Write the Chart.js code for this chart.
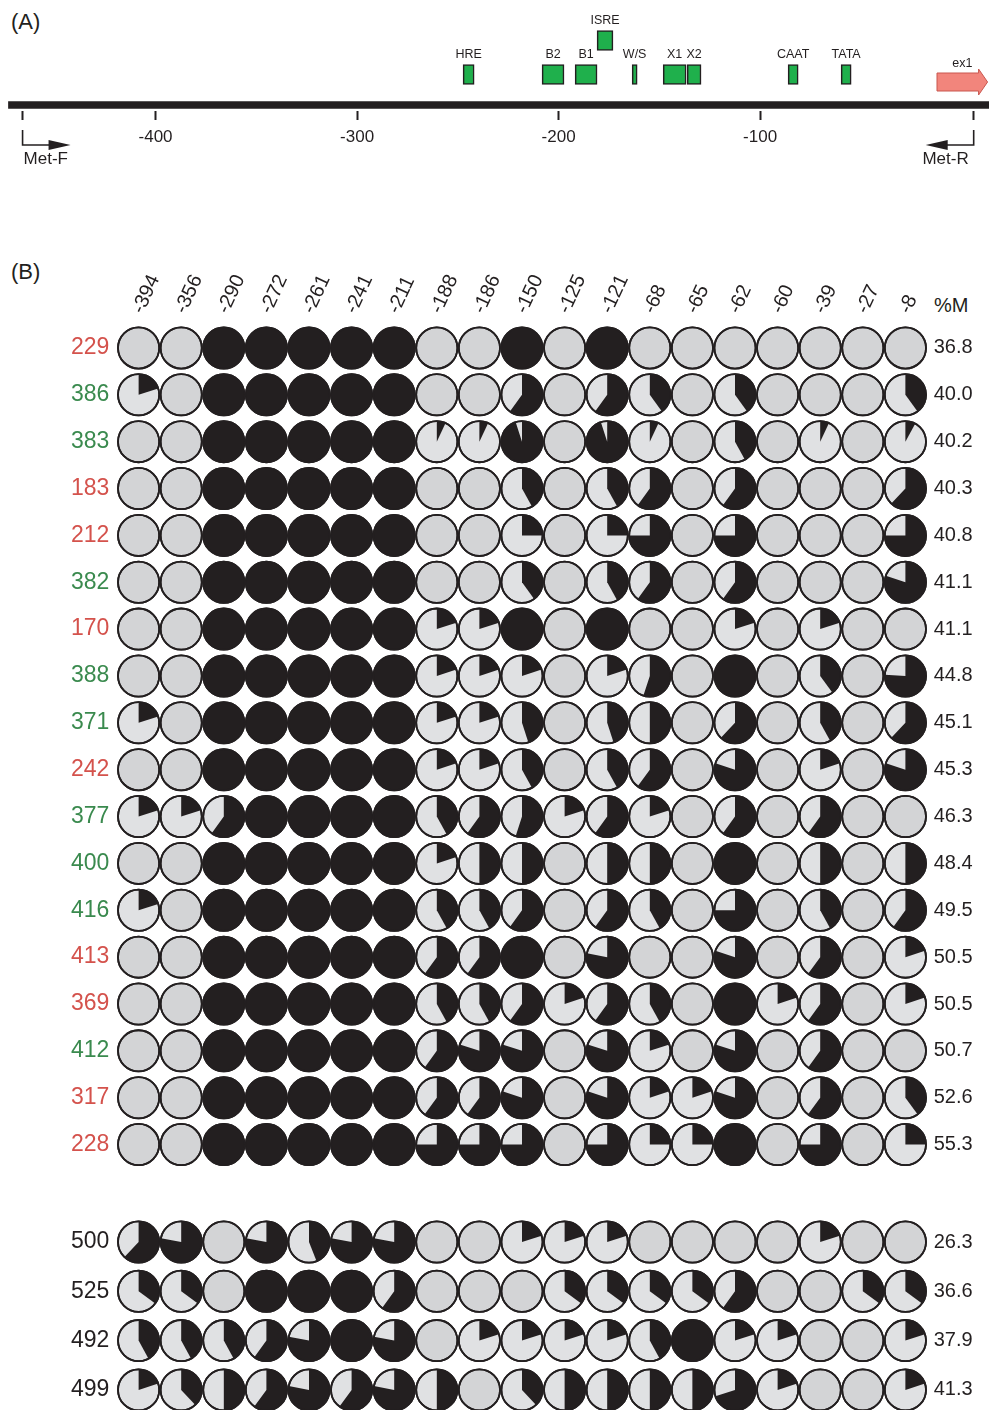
<!DOCTYPE html>
<html>
<head>
<meta charset="utf-8">
<script src="https://cdn.jsdelivr.net/npm/chart.js@4.4.0/dist/chart.umd.min.js"></script>
<style>
  body { margin: 0; width: 989px; height: 1410px; overflow: hidden; background: #fff; position: relative;
         font-family: 'Liberation Sans', Arial, sans-serif; color: #231f20; }
  canvas, .txt { position: absolute; }
  .panel { font-size: 22px; }
</style>
</head>
<body>
<div class="txt panel" style="left:11px;top:9px">(A)</div>
<div class="txt panel" style="left:11px;top:259px">(B)</div>
<div class="txt" style="left:934px;top:294px;font-size:20px">%M</div>
<canvas id="mapChart" width="989" height="180" style="left:0;top:0"></canvas>
<canvas id="topChart" width="989" height="916" style="left:0;top:252px"></canvas>
<canvas id="bottomChart" width="989" height="210" style="left:0;top:1210px"></canvas>

<script>
// ---- panel A: promoter map (positions in bp relative to exon 1) ----
const mapStart = -473, mapEnd = 14;
const mapTicks = [-400, -300, -200, -100];
const primerF = -466, primerR = 6;
const elementNames = ['HRE', 'B2', 'B1', 'ISRE', 'W/S', 'X1', 'X2', 'CAAT', 'TATA'];
const elementStart = [-247.4, -208.2, -191.8, -180.9, -163.5, -148.1, -136.2, -86.1, -59.8];
const elementEnd   = [-241.9, -197.3, -180.9, -173.0, -161.0, -136.7, -129.3, -81.1, -54.8];
const elementRaised = [0, 0, 0, 1, 0, 0, 0, 0, 0];
const exonStart = -12.2, exonEnd = 12.9;

// ---- panel B: methylation fraction per CpG site ----
const cpgSites = ['-394', '-356', '-290', '-272', '-261', '-241', '-211', '-188', '-186', '-150',
                  '-125', '-121', '-68', '-65', '-62', '-60', '-39', '-27', '-8'];

const topClones = ['229', '386', '383', '183', '212', '382', '170', '388', '371',
                   '242', '377', '400', '416', '413', '369', '412', '317', '228'];
const topPctM = ['36.8', '40.0', '40.2', '40.3', '40.8', '41.1', '41.1', '44.8', '45.1',
                 '45.3', '46.3', '48.4', '49.5', '50.5', '50.5', '50.7', '52.6', '55.3'];
const topMeth = [
  [0, 0, 1, 1, 1, 1, 1, 0, 0, 1, 0, 1, 0, 0, 0, 0, 0, 0, 0],
  [0.2, 0, 1, 1, 1, 1, 1, 0, 0, 0.6, 0, 0.6, 0.4, 0, 0.4, 0, 0, 0, 0.4],
  [0, 0, 1, 1, 1, 1, 1, 0.07, 0.07, 0.95, 0, 0.95, 0.07, 0, 0.42, 0, 0.07, 0, 0.08],
  [0, 0, 1, 1, 1, 1, 1, 0, 0, 0.42, 0, 0.42, 0.6, 0, 0.6, 0, 0, 0, 0.62],
  [0, 0, 1, 1, 1, 1, 1, 0, 0, 0.25, 0, 0.25, 0.75, 0, 0.75, 0, 0, 0, 0.75],
  [0, 0, 1, 1, 1, 1, 1, 0, 0, 0.4, 0, 0.42, 0.6, 0, 0.6, 0, 0, 0, 0.8],
  [0, 0, 1, 1, 1, 1, 1, 0.2, 0.2, 1, 0, 1, 0, 0, 0.2, 0, 0.2, 0, 0],
  [0, 0, 1, 1, 1, 1, 1, 0.2, 0.2, 0.2, 0, 0.2, 0.55, 0, 1, 0, 0.4, 0, 0.76],
  [0.2, 0, 1, 1, 1, 1, 1, 0.2, 0.2, 0.45, 0, 0.45, 0.5, 0, 0.62, 0, 0.42, 0, 0.62],
  [0, 0, 1, 1, 1, 1, 1, 0.2, 0.2, 0.42, 0, 0.42, 0.6, 0, 0.8, 0, 0.2, 0, 0.8],
  [0.2, 0.2, 0.6, 1, 1, 1, 1, 0.42, 0.6, 0.55, 0.2, 0.6, 0.2, 0, 0.6, 0, 0.6, 0, 0],
  [0, 0, 1, 1, 1, 1, 1, 0.2, 0.5, 0.5, 0, 0.5, 0.5, 0, 1, 0, 0.5, 0, 0.5],
  [0.2, 0, 1, 1, 1, 1, 1, 0.42, 0.42, 0.6, 0, 0.6, 0.42, 0, 0.75, 0, 0.42, 0, 0.6],
  [0, 0, 1, 1, 1, 1, 1, 0.6, 0.6, 1, 0, 0.78, 0, 0, 0.8, 0, 0.6, 0, 0.2],
  [0, 0, 1, 1, 1, 1, 1, 0.42, 0.42, 0.6, 0.2, 0.6, 0.42, 0, 1, 0.2, 0.6, 0, 0.2],
  [0, 0, 1, 1, 1, 1, 1, 0.6, 0.8, 0.8, 0, 0.8, 0.2, 0, 0.8, 0, 0.6, 0, 0],
  [0, 0, 1, 1, 1, 1, 1, 0.6, 0.6, 0.8, 0, 0.8, 0.2, 0.2, 0.8, 0, 0.6, 0, 0.4],
  [0, 0, 1, 1, 1, 1, 1, 0.75, 0.75, 0.75, 0, 0.75, 0.25, 0.25, 1, 0, 0.75, 0, 0.25]
];
// clone label colours (red / green groups)
const topCloneColor = ['#d4524c', '#3a8a4e', '#3a8a4e', '#d4524c', '#d4524c', '#3a8a4e', '#d4524c', '#3a8a4e', '#3a8a4e',
                       '#d4524c', '#3a8a4e', '#3a8a4e', '#3a8a4e', '#d4524c', '#d4524c', '#3a8a4e', '#d4524c', '#d4524c'];

const bottomClones = ['500', '525', '492', '499'];
const bottomPctM = ['26.3', '36.6', '37.9', '41.3'];
const bottomMeth = [
  [0.62, 0.78, 0, 0.78, 0.44, 0.78, 0.78, 0, 0, 0.2, 0.2, 0.2, 0, 0, 0, 0, 0.2, 0, 0],
  [0.35, 0.35, 0, 1, 1, 1, 0.6, 0, 0, 0, 0.35, 0.35, 0.35, 0.35, 0.6, 0, 0, 0.35, 0.35],
  [0.42, 0.42, 0.42, 0.6, 0.78, 1, 0.78, 0, 0.2, 0.2, 0.2, 0.2, 0.42, 1, 0.2, 0.2, 0, 0, 0.2],
  [0.2, 0.38, 0.5, 0.6, 0.78, 0.6, 0.78, 0.5, 0, 0.38, 0.5, 0.5, 0.5, 0.5, 0.7, 0.2, 0, 0, 0.2]
];

const INK = '#231f20';
const GREY = '#d3d4d6';
const LIGHT = '#e0e1e3';
Chart.defaults.font.family = "'Liberation Sans', Arial, sans-serif";
Chart.defaults.color = INK;

// labels, exon arrow and primers for the map
const mapDecor = {
  id: 'mapDecor',
  afterDraw(chart) {
    const ctx = chart.ctx, xs = chart.scales.x, ys = chart.scales.y;
    ctx.save();
    ctx.fillStyle = INK;
    ctx.font = "12.5px 'Liberation Sans', Arial, sans-serif";
    ctx.textAlign = 'center';
    ctx.textBaseline = 'bottom';
    chart.getDatasetMeta(1).data.forEach((bar, i) => {
      ctx.fillText(elementNames[i], (bar.x + bar.base) / 2, bar.y - bar.height / 2 - 4);
    });

    // exon 1 arrow
    const e0 = xs.getPixelForValue(exonStart), e1 = xs.getPixelForValue(exonEnd);
    const yc = ys.getPixelForValue(82);
    ctx.beginPath();
    ctx.moveTo(e0, yc - 9); ctx.lineTo(e1 - 9, yc - 9); ctx.lineTo(e1 - 9, yc - 13);
    ctx.lineTo(e1, yc); ctx.lineTo(e1 - 9, yc + 13); ctx.lineTo(e1 - 9, yc + 9);
    ctx.lineTo(e0, yc + 9); ctx.closePath();
    ctx.fillStyle = '#f2857c'; ctx.fill();
    ctx.strokeStyle = '#c9574f'; ctx.lineWidth = 1; ctx.stroke();
    ctx.fillStyle = INK;
    ctx.fillText('ex1', (e0 + e1) / 2, yc - 12);

    // primers
    ctx.strokeStyle = INK; ctx.lineWidth = 1.6;
    const yTop = ys.getPixelForValue(130), yBar = ys.getPixelForValue(145);
    [[primerF, 1], [primerR, -1]].forEach(([pos, dir]) => {
      const px = xs.getPixelForValue(pos);
      ctx.beginPath();
      ctx.moveTo(px, yTop); ctx.lineTo(px, yBar); ctx.lineTo(px + dir * 28, yBar);
      ctx.stroke();
      ctx.beginPath();
      ctx.moveTo(px + dir * 26, yBar - 5); ctx.lineTo(px + dir * 48, yBar); ctx.lineTo(px + dir * 26, yBar + 5);
      ctx.closePath(); ctx.fill();
    });
    ctx.font = "17px 'Liberation Sans', Arial, sans-serif";
    ctx.textBaseline = 'middle';
    ctx.textAlign = 'left';
    ctx.fillText('Met-F', xs.getPixelForValue(primerF) + 1, ys.getPixelForValue(159));
    ctx.textAlign = 'right';
    ctx.fillText('Met-R', xs.getPixelForValue(primerR) - 5, ys.getPixelForValue(159));
    ctx.restore();
  }
};

new Chart(document.getElementById('mapChart'), {
  type: 'bar',
  data: {
    datasets: [
      {
        data: [{ x: [mapStart, mapEnd], y: 105 }],
        backgroundColor: INK, borderWidth: 0, barThickness: 7, grouped: false
      },
      {
        data: elementNames.map((n, i) => ({ x: [elementStart[i], elementEnd[i]], y: elementRaised[i] ? 40.5 : 74.5 })),
        backgroundColor: '#1fb04c', borderColor: INK, borderWidth: 1.6, borderSkipped: false,
        barThickness: 20, grouped: false
      }
    ]
  },
  options: {
    indexAxis: 'y',
    responsive: false, animation: false, events: [],
    layout: { padding: 0 },
    plugins: { legend: { display: false }, tooltip: { enabled: false } },
    scales: {
      x: {
        type: 'linear', min: -477.2, max: 13.6, bounds: 'data',
        position: { y: 111 },
        border: { display: false },
        grid: { drawOnChartArea: false, drawTicks: true, tickLength: 9, tickWidth: 2, tickColor: INK },
        afterBuildTicks: s => { s.ticks = [primerF, ...mapTicks, primerR].map(v => ({ value: v })); },
        ticks: {
          padding: 7, font: { size: 17 }, color: INK,
          callback: v => mapTicks.includes(v) ? String(v) : ''
        }
      },
      y: { type: 'linear', min: 0, max: 180, reverse: true, offset: false, display: false,
           grid: { offset: false } }
    }
  },
  plugins: [mapDecor]
});

// black methylated wedge, clockwise from 12 o'clock, on top of each library-drawn circle
const pieWedges = {
  id: 'pieWedges',
  afterDatasetsDraw(chart) {
    const ctx = chart.ctx;
    const ds = chart.data.datasets[0];
    ctx.save();
    chart.getDatasetMeta(0).data.forEach((pt, i) => {
      const v = ds.data[i].v;
      const r = pt.options.radius;
      if (v > 0) {
        ctx.beginPath();
        ctx.moveTo(pt.x, pt.y);
        ctx.arc(pt.x, pt.y, r, -Math.PI / 2, -Math.PI / 2 + v * 2 * Math.PI);
        ctx.closePath();
        ctx.fillStyle = INK;
        ctx.fill();
      }
      ctx.beginPath();
      ctx.arc(pt.x, pt.y, r, 0, 2 * Math.PI);
      ctx.lineWidth = pt.options.borderWidth;
      ctx.strokeStyle = INK;
      ctx.stroke();
    });
    ctx.restore();
  }
};

function fixWidth(w) {
  return s => { s.width = w; s.paddingTop = 0; s.paddingBottom = 0; };
}

function methChart(canvasId, clones, pctM, meth, labelColor, showSites, pad) {
  const points = clones.flatMap((c, r) => cpgSites.map((s, k) => ({ x: s, y: c, v: meth[r][k] })));
  return new Chart(document.getElementById(canvasId), {
    type: 'scatter',
    data: {
      datasets: [{
        data: points,
        pointRadius: 20.6,
        pointBorderWidth: 1.8,
        pointBorderColor: INK,
        pointBackgroundColor: c => (c.raw && c.raw.v > 0) ? LIGHT : GREY,
        clip: false
      }]
    },
    options: {
      responsive: false, animation: false, events: [],
      layout: { padding: pad, autoPadding: false },
      plugins: { legend: { display: false }, tooltip: { enabled: false } },
      scales: {
        x: {
          type: 'category', labels: cpgSites, position: 'top', offset: true, display: showSites,
          grid: { display: false, drawTicks: false }, border: { display: false },
          ticks: { minRotation: 65, maxRotation: 65, autoSkip: false, padding: 7, labelOffset: 21,
                   font: { size: 20 }, color: INK },
          afterFit: s => { s.height = showSites ? 72.5 : 0; s.paddingLeft = 0; s.paddingRight = 0; }
        },
        y: {
          type: 'category', labels: clones, position: 'left', offset: true,
          grid: { display: false, drawTicks: false }, border: { display: false },
          ticks: { autoSkip: false, padding: 8, font: { size: 23 }, color: c => labelColor[c.index] },
          afterFit: fixWidth(117.3)
        },
        yR: {
          type: 'category', labels: pctM, position: 'right', offset: true,
          grid: { display: false, drawTicks: false }, border: { display: false },
          ticks: { autoSkip: false, padding: 7, font: { size: 20 }, color: INK },
          afterFit: fixWidth(62.3)
        }
      }
    },
    plugins: [pieWedges]
  });
}

methChart('topChart', topClones, topPctM, topMeth, topCloneColor, true, 0);
methChart('bottomChart', bottomClones, bottomPctM, bottomMeth, bottomClones.map(() => INK), false,
  { top: 7.35, bottom: 5.45, left: 0, right: 0 });
</script>
</body>
</html>
